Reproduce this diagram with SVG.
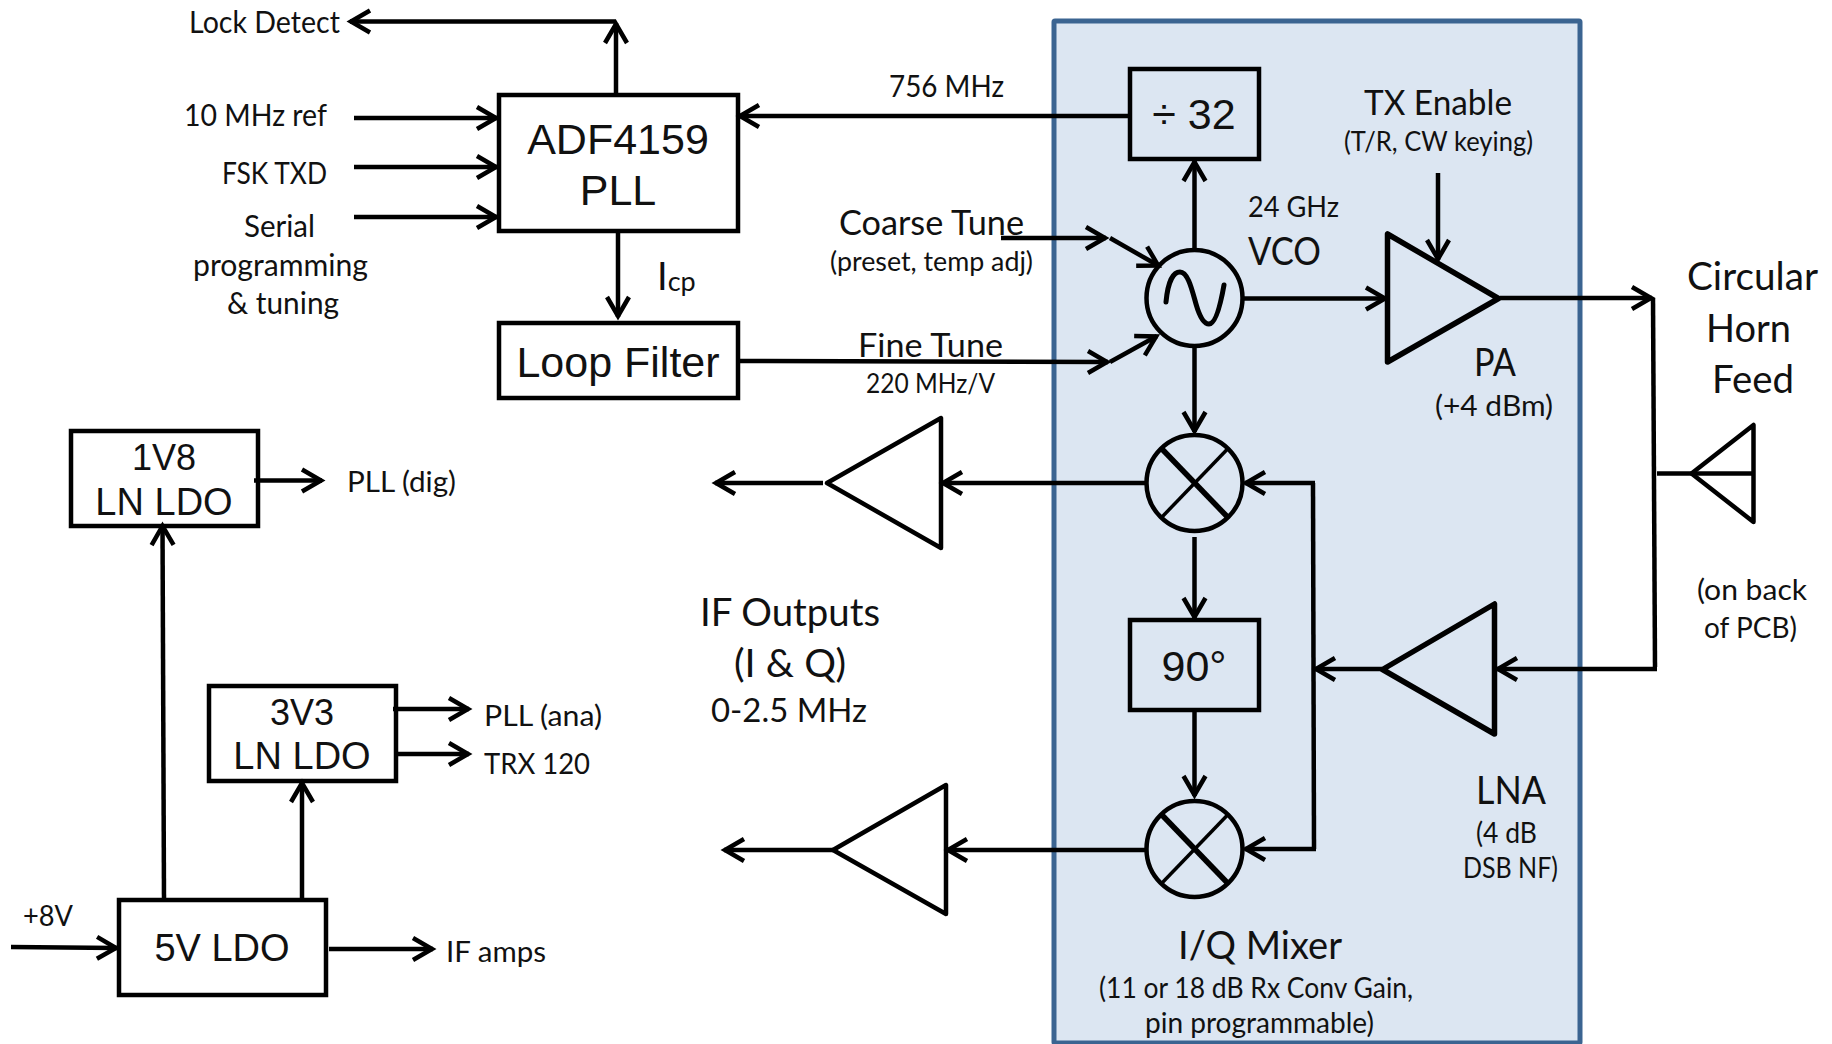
<svg xmlns="http://www.w3.org/2000/svg" width="1832" height="1044" viewBox="0 0 1832 1044">
<defs>
<style>
.c{font-family:"Lato","Open Sans","Liberation Sans",sans-serif;fill:#111;text-anchor:start}
.a{font-family:"Liberation Sans",Arial,sans-serif;fill:#111;text-anchor:middle}
.b{fill:none;stroke:#000;stroke-width:4.500;stroke-linejoin:miter}
.f{fill:none;stroke:#000;stroke-width:5;stroke-linejoin:round;stroke-linecap:round}
.t{fill:none;stroke:#000;stroke-width:4.500;stroke-linejoin:round}
.l{fill:none;stroke:#000;stroke-width:4.500;marker-end:url(#ah)}
.n{fill:none;stroke:#000;stroke-width:4.500}
</style>
<marker id="ah" markerUnits="userSpaceOnUse" viewBox="-26 -15 30 30" refX="0" refY="0" markerWidth="30" markerHeight="30" orient="auto" overflow="visible">
<path d="M-20,-11 L-1,0 L-20,11" fill="none" stroke="#000" stroke-width="4.500"/>
</marker>
</defs>
<rect width="1832" height="1044" fill="#fff"/>
<g id="panel"><rect x="1054" y="21" width="526" height="1022" fill="#dce6f2" stroke="#3b6491" stroke-width="5" rx="1"/></g>

<g id="connectors">
<path class="l" d="M616 94V23"/>
<path class="l" d="M616 21.500H350"/>
<path class="l" d="M354 118H497"/>
<path class="l" d="M354 167H497"/>
<path class="l" d="M354 217H497"/>
<path class="l" d="M1130 116H739"/>
<path class="l" d="M618 232V317"/>
<path class="l" d="M739 361L1108 362"/>
<path class="l" d="M1001 238H1106"/>
<path class="l" d="M1110 238L1159 266"/>
<path class="l" d="M1110 362L1157 336"/>
<path class="l" d="M1194.500 250V161"/>
<path class="l" d="M1243 298.500H1386"/>
<path class="l" d="M1438 173V260"/>
<path class="l" d="M1500 298H1652"/>
<path class="n" d="M1653 298L1655 667"/>
<path class="l" d="M1657 669H1497"/>
<path class="l" d="M1382 669H1315"/>
<path class="n" d="M1313 483L1314 849"/>
<path class="l" d="M1315 483H1245"/>
<path class="l" d="M1316 849H1245"/>
<path class="l" d="M1194.500 346V432"/>
<path class="l" d="M1194.500 537V618"/>
<path class="l" d="M1194.500 711V796"/>
<path class="l" d="M1146 483H942"/>
<path class="l" d="M823 483H715"/>
<path class="l" d="M1146 850H947"/>
<path class="l" d="M833 850H724"/>
<path class="n" d="M1657 473.500H1691"/>
<path class="l" d="M254 480.500H322"/>
<path class="l" d="M393 709H469"/>
<path class="l" d="M396 754H469"/>
<path class="l" d="M11 947L117 948"/>
<path class="l" d="M329 949H433"/>
<path class="l" d="M164 900L162.500 525"/>
<path class="l" d="M302 900V782"/>
</g>

<g id="adf4159"><rect class="b" x="499" y="95" width="239" height="136"/>
<text class="a" x="618" y="154" font-size="43">ADF4159</text><text class="a" x="618" y="205" font-size="43">PLL</text></g>
<g id="loop-filter"><rect class="b" x="499" y="323" width="239" height="75"/>
<text class="a" x="618" y="377" font-size="43">Loop Filter</text></g>
<g id="div32"><rect class="b" x="1130" y="69" width="129" height="90"/>
<text class="a" x="1194" y="129" font-size="43">÷ 32</text></g>
<g id="deg90"><rect class="b" x="1130" y="620" width="129" height="90"/>
<text class="a" x="1194" y="681" font-size="43">90°</text></g>

<g id="vco"><circle class="b" cx="1194.500" cy="298" r="48"/>
<path class="f" d="M1166 302C1168 280 1174 272 1180 272C1188 272 1192 290 1196 304C1200 318 1204 324 1209 324C1216 324 1221 302 1224 285"/></g>
<g id="mixer-i"><circle class="b" cx="1194.500" cy="483" r="48"/>
<path class="n" style="stroke-width:5.500" d="M1161.500 448.500L1228 517.500"/><path class="n" style="stroke-width:3.500" d="M1228 448.500L1161.500 517.500"/></g>
<g id="mixer-q"><circle class="b" cx="1194.500" cy="849" r="48"/>
<path class="n" style="stroke-width:5.500" d="M1161.500 814.500L1228 883.500"/><path class="n" style="stroke-width:3.500" d="M1228 814.500L1161.500 883.500"/></g>

<g id="pa"><path class="t" style="stroke-width:5.500" d="M1387.500 234V362L1498.500 298.500Z"/></g>
<g id="lna"><path class="t" style="stroke-width:5.500" d="M1494.500 604V734L1382.500 669.500Z"/></g>
<g id="if-amp-i"><path class="t" d="M827 483L941 418V548Z"/></g>
<g id="if-amp-q"><path class="t" d="M833 850L946 785V914Z"/></g>
<g id="antenna"><path class="t" d="M1691.500 473.500L1753.500 425V522Z"/><path class="n" d="M1691.500 473.500H1753.500"/></g>

<g id="ldo-1v8"><rect class="b" x="71" y="431" width="187" height="95"/>
<text class="a" x="164" y="470" font-size="36">1V8</text><text class="a" x="164" y="515" font-size="38">LN LDO</text></g>
<g id="ldo-3v3"><rect class="b" x="209" y="686" width="187" height="95"/>
<text class="a" x="302" y="725" font-size="36">3V3</text><text class="a" x="302" y="769" font-size="38">LN LDO</text></g>
<g id="ldo-5v"><rect class="b" x="119" y="900" width="207" height="95"/>
<text class="a" x="222" y="961" font-size="38">5V LDO</text></g>

<g id="labels" transform="translate(0 1)">
<text class="c" x="189" y="32" font-size="30" textLength="151" lengthAdjust="spacingAndGlyphs">Lock Detect</text>
<text class="c" x="184" y="125" font-size="30" textLength="143" lengthAdjust="spacingAndGlyphs">10 MHz ref</text>
<text class="c" x="222" y="183" font-size="30" textLength="105" lengthAdjust="spacingAndGlyphs">FSK TXD</text>
<text class="c" x="244" y="236" font-size="30" textLength="71" lengthAdjust="spacingAndGlyphs">Serial</text>
<text class="c" x="193" y="275" font-size="30" textLength="175" lengthAdjust="spacingAndGlyphs">programming</text>
<text class="c" x="227" y="313" font-size="30" textLength="112" lengthAdjust="spacingAndGlyphs">&amp; tuning</text>
<text class="c" x="657" y="289" font-size="38">I<tspan font-size="27" dy="1">cp</tspan></text>
<text class="c" x="889" y="96" font-size="30" textLength="115" lengthAdjust="spacingAndGlyphs">756 MHz</text>
<text class="c" x="839" y="234" font-size="34" textLength="185" lengthAdjust="spacingAndGlyphs">Coarse Tune</text>
<text class="c" x="830" y="270" font-size="26" textLength="203" lengthAdjust="spacingAndGlyphs">(preset, temp adj)</text>
<text class="c" x="858" y="356" font-size="33" textLength="145" lengthAdjust="spacingAndGlyphs">Fine Tune</text>
<text class="c" x="866" y="392" font-size="26" textLength="129" lengthAdjust="spacingAndGlyphs">220 MHz/V</text>
<text class="c" x="1364" y="114" font-size="35" textLength="148" lengthAdjust="spacingAndGlyphs">TX Enable</text>
<text class="c" x="1344" y="150" font-size="26" textLength="189" lengthAdjust="spacingAndGlyphs">(T/R, CW keying)</text>
<text class="c" x="1248" y="216" font-size="29" textLength="91" lengthAdjust="spacingAndGlyphs">24 GHz</text>
<text class="c" x="1248" y="264" font-size="38" textLength="73" lengthAdjust="spacingAndGlyphs">VCO</text>
<text class="c" x="1474" y="375" font-size="38" textLength="42" lengthAdjust="spacingAndGlyphs">PA</text>
<text class="c" x="1435" y="415" font-size="28" textLength="118" lengthAdjust="spacingAndGlyphs">(+4 dBm)</text>
<text class="c" x="1687" y="289" font-size="39" textLength="131" lengthAdjust="spacingAndGlyphs">Circular</text>
<text class="c" x="1706" y="341" font-size="39" textLength="85" lengthAdjust="spacingAndGlyphs">Horn</text>
<text class="c" x="1712" y="392" font-size="39" textLength="82" lengthAdjust="spacingAndGlyphs">Feed</text>
<text class="c" x="1697" y="599" font-size="28" textLength="110" lengthAdjust="spacingAndGlyphs">(on back</text>
<text class="c" x="1704" y="637" font-size="28" textLength="93" lengthAdjust="spacingAndGlyphs">of PCB)</text>
<text class="c" x="1476" y="803" font-size="38" textLength="70" lengthAdjust="spacingAndGlyphs">LNA</text>
<text class="c" x="1476" y="842" font-size="28" textLength="61" lengthAdjust="spacingAndGlyphs">(4 dB</text>
<text class="c" x="1463" y="877" font-size="28" textLength="95" lengthAdjust="spacingAndGlyphs">DSB NF)</text>
<text class="c" x="1178" y="958" font-size="38" textLength="164" lengthAdjust="spacingAndGlyphs">I/Q Mixer</text>
<text class="c" x="1099" y="997" font-size="28" textLength="314" lengthAdjust="spacingAndGlyphs">(11 or 18 dB Rx Conv Gain,</text>
<text class="c" x="1145" y="1032" font-size="28" textLength="229" lengthAdjust="spacingAndGlyphs">pin programmable)</text>
<text class="c" x="700" y="625" font-size="38" textLength="180" lengthAdjust="spacingAndGlyphs">IF Outputs</text>
<text class="c" x="734" y="676" font-size="38" textLength="112" lengthAdjust="spacingAndGlyphs">(I &amp; Q)</text>
<text class="c" x="711" y="721" font-size="32" textLength="156" lengthAdjust="spacingAndGlyphs">0-2.5 MHz</text>
<text class="c" x="347" y="491" font-size="28" textLength="109" lengthAdjust="spacingAndGlyphs">PLL (dig)</text>
<text class="c" x="484" y="725" font-size="28" textLength="118" lengthAdjust="spacingAndGlyphs">PLL (ana)</text>
<text class="c" x="484" y="773" font-size="28" textLength="106" lengthAdjust="spacingAndGlyphs">TRX 120</text>
<text class="c" x="23" y="925" font-size="28" textLength="50" lengthAdjust="spacingAndGlyphs">+8V</text>
<text class="c" x="446" y="961" font-size="28" textLength="100" lengthAdjust="spacingAndGlyphs">IF amps</text>
</g>
</svg>
